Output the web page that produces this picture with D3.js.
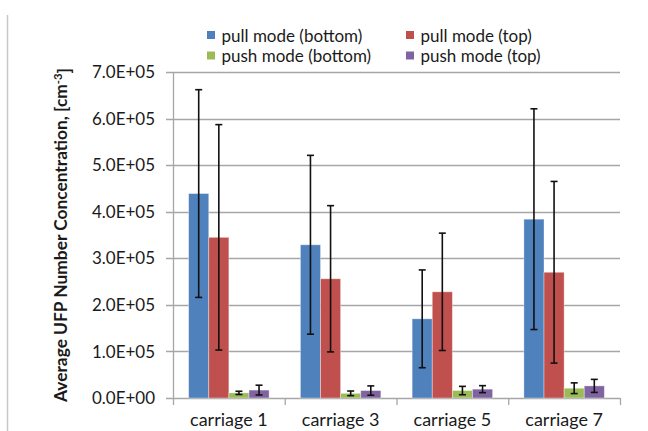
<!DOCTYPE html>
<html>
<head>
<meta charset="utf-8">
<script src="https://cdn.jsdelivr.net/npm/d3@7"></script>
<style>
  body { margin: 0; background: #fff; }
  svg text { font-family: Lato, "Open Sans", sans-serif; fill: #1a1a1a; }
</style>
</head>
<body>
<div id="chart"></div>
<script>
// Chart data
const categories = ["carriage 1", "carriage 3", "carriage 5", "carriage 7"];
const seriesNames = ["pull mode (bottom)", "pull mode (top)", "push mode (bottom)", "push mode (top)"];
const seriesColors = ["#4F81BD", "#C0504D", "#9BBB59", "#8064A2"];
const pullBottom = [4.39e5, 3.29e5, 1.70e5, 3.84e5];
const pullBottomErr = [2.23e5, 1.92e5, 1.05e5, 2.37e5];
const pullTop = [3.45e5, 2.56e5, 2.28e5, 2.70e5];
const pullTopErr = [2.42e5, 1.57e5, 1.26e5, 1.95e5];
const pushBottom = [1.1e4, 1.0e4, 1.6e4, 2.1e4];
const pushBottomErr = [3.5e3, 5e3, 9e3, 1.15e4];
const pushTop = [1.7e4, 1.6e4, 1.9e4, 2.6e4];
const pushTopErr = [1.05e4, 1e4, 7.5e3, 1.4e4];
const yTicks = [0, 1e5, 2e5, 3e5, 4e5, 5e5, 6e5, 7e5];

const width = 648, height = 431;
const margin = {left: 173, right: 28, top: 72, bottom: 33};

const svg = d3.select("#chart").append("svg")
    .attr("width", width)
    .attr("height", height);

// Scale a text's font size so its width matches the width seen in the reference
function fitSize(weight, sample, targetWidth, baseSize) {
    let probe = svg.append("text").style("font-size", baseSize + "px")
        .style("font-weight", weight).text(sample);
    let w = probe.node().getComputedTextLength();
    probe.remove();
    return baseSize * targetWidth / w;
}

// Thin grey frame line on the left
svg.append("line")
    .attr("x1", 7.5).attr("x2", 7.5)
    .attr("y1", 15).attr("y2", height)
    .attr("stroke", "#c8c8c8").attr("stroke-width", 1.5);

const x0 = d3.scaleBand()
    .domain(categories)
    .range([margin.left, width - margin.right])
    .paddingInner(0)
    .paddingOuter(0);

// bars fill roughly 72% of each category slot (Excel gap width ~150%)
const groupPad = 0.14;
const x1 = d3.scaleBand()
    .domain(d3.range(4))
    .range([x0.bandwidth() * groupPad, x0.bandwidth() * (1 - groupPad)]);

const y = d3.scaleLinear()
    .domain([0, 7e5])
    .range([height - margin.bottom, margin.top]);

// Gridlines
svg.append("g")
    .selectAll("line")
    .data(yTicks)
    .enter().append("line")
        .attr("x1", margin.left - 7)
        .attr("x2", width - margin.right)
        .attr("y1", d => Math.round(y(d)) + 0.5)
        .attr("y2", d => Math.round(y(d)) + 0.5)
        .attr("stroke", "#a6a6a6")
        .attr("stroke-width", 1.3);

// Y tick labels
const tickSize = fitSize("normal", "7.0E+05", 63, 16);
svg.append("g")
    .selectAll("text")
    .data(yTicks)
    .enter().append("text")
        .attr("x", 155)
        .attr("y", d => y(d))
        .attr("dy", "0.36em")
        .attr("text-anchor", "end")
        .style("font-size", tickSize + "px")
        .text(d => (d / 1e5).toFixed(1) + "E+" + (d === 0 ? "00" : "05"));

// Y axis line
svg.append("line")
    .attr("x1", margin.left + 0.5).attr("x2", margin.left + 0.5)
    .attr("y1", margin.top).attr("y2", height - margin.bottom)
    .attr("stroke", "#a6a6a6").attr("stroke-width", 1.3);

// X tick marks at category boundaries
const boundaries = categories.map(c => x0(c)).concat([width - margin.right]);
svg.append("g")
    .selectAll("line")
    .data(boundaries)
    .enter().append("line")
        .attr("x1", d => d + 0.5).attr("x2", d => d + 0.5)
        .attr("y1", y(0)).attr("y2", y(0) + 7)
        .attr("stroke", "#a6a6a6").attr("stroke-width", 1.3);

// X labels
const catSize = fitSize("normal", "carriage 1", 77.6, 16);
svg.append("g")
    .selectAll("text")
    .data(categories)
    .enter().append("text")
        .attr("x", d => x0(d) + x0.bandwidth() / 2)
        .attr("y", 426)
        .attr("text-anchor", "middle")
        .style("font-size", catSize + "px")
        .text(d => d);

// Build rows for bars
const values = [pullBottom, pullTop, pushBottom, pushTop];
const errors = [pullBottomErr, pullTopErr, pushBottomErr, pushTopErr];
let rows = [];
categories.forEach((cat, i) => {
    values.forEach((series, s) => {
        rows.push({cat: cat, s: s, value: series[i], err: errors[s][i]});
    });
});

// Bars
svg.append("g")
    .selectAll("rect")
    .data(rows)
    .enter().append("rect")
        .attr("x", d => x0(d.cat) + x1(d.s))
        .attr("y", d => y(d.value))
        .attr("width", x1.bandwidth())
        .attr("height", d => y(0) - y(d.value))
        .attr("fill", d => seriesColors[d.s])
        .attr("stroke", "rgba(255,255,255,0.45)")
        .attr("stroke-width", 0.8);

// Error bars
const errG = svg.append("g")
    .attr("stroke", "#111")
    .attr("stroke-width", 1.6);
rows.forEach(d => {
    let cx = x0(d.cat) + x1(d.s) + x1.bandwidth() / 2;
    let yTop = y(d.value + d.err);
    let yBot = y(d.value - d.err);
    errG.append("line").attr("x1", cx).attr("x2", cx).attr("y1", yTop).attr("y2", yBot);
    errG.append("line").attr("x1", cx - 3.5).attr("x2", cx + 3.5).attr("y1", yTop).attr("y2", yTop);
    errG.append("line").attr("x1", cx - 3.5).attr("x2", cx + 3.5).attr("y1", yBot).attr("y2", yBot);
});

// Legend (2 x 2)
const legendSize = Math.min(17, fitSize("normal", "pull mode (bottom)", 153, 16));
const legendPos = [[207, 35.5], [406, 35.5], [207, 56], [406, 56]];
const legend = svg.append("g")
    .selectAll("g")
    .data(seriesNames)
    .enter().append("g")
        .attr("transform", (d, i) => "translate(" + legendPos[i][0] + "," + legendPos[i][1] + ")");
legend.append("rect")
    .attr("x", 0).attr("y", -4.5)
    .attr("width", 8).attr("height", 8)
    .attr("fill", (d, i) => seriesColors[i]);
legend.append("text")
    .attr("x", 14.5)
    .attr("dy", "0.36em")
    .style("font-size", legendSize + "px")
    .text(d => d);

// Y axis title
const titleSize = fitSize("bold", "Average UFP Number Concentration,  [cm-3]", 340, 15);
const title = svg.append("text")
    .attr("transform", "translate(67," + 235 + ") rotate(-90)")
    .attr("text-anchor", "middle")
    .style("font-size", titleSize + "px")
    .style("font-weight", "bold");
title.append("tspan").text("Average UFP Number Concentration,  [cm");
title.append("tspan").attr("dy", "-0.45em").style("font-size", (titleSize * 0.65) + "px").text("-3");
title.append("tspan").attr("dy", "0.45em").text("]");
</script>
</body>
</html>
